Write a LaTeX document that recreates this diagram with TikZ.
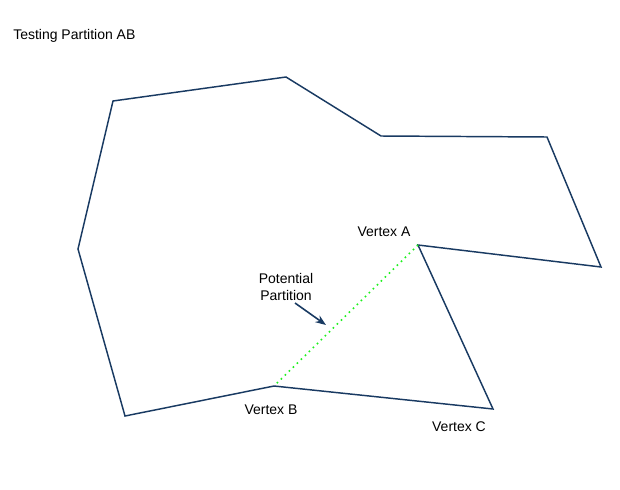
\documentclass[tikz,border=0pt]{standalone}
\usepackage{fontspec}
\setmainfont{Liberation Sans}
\usetikzlibrary{arrows.meta}
\definecolor{edgeblue}{RGB}{25,58,98}
\definecolor{partgreen}{RGB}{30,240,30}
\begin{document}
\begin{tikzpicture}[x=0.75pt,y=-0.75pt,
  lbl/.style={font=\fontsize{10.5}{12.5}\selectfont, inner sep=0pt, align=center},
  edge/.style={draw=edgeblue, line width=1.1pt, line join=miter},
  part/.style={draw=partgreen, line width=1.2pt, dash pattern=on 1.2pt off 3pt},
  pointer/.style={draw=edgeblue, line width=1.2pt, -{Stealth[length=8pt,width=6pt]}}]
\useasboundingbox (0,0) rectangle (620,489);
\coordinate (p1) at (113,101);
\coordinate (p2) at (286,77);
\coordinate (p3) at (381,136);
\coordinate (p4) at (547,137);
\coordinate (p5) at (601,267);
\coordinate (A) at (418,245);
\coordinate (C) at (493,409);
\coordinate (B) at (274,386);
\coordinate (p9) at (125,416);
\coordinate (p10) at (78,249);
\draw[edge] (p1) -- (p2) -- (p3) -- (p4) -- (p5) -- (A) -- (C) -- (B) -- (p9) -- (p10) -- cycle;
\draw[part] (A) -- (B);
\node[lbl, anchor=west] (title) at (13,36) {Testing Partition AB};
\node[lbl] (la) at (384,232) {Vertex A};
\node[lbl] (lb) at (271,410) {Vertex B};
\node[lbl] (lc) at (459,427) {Vertex C};
\node[lbl] (lp) at (286,287) {Potential\\Partition};
\coordinate (tip) at (326,325);
\draw[pointer] (295,303) -- (tip);
\end{tikzpicture}
\end{document}
